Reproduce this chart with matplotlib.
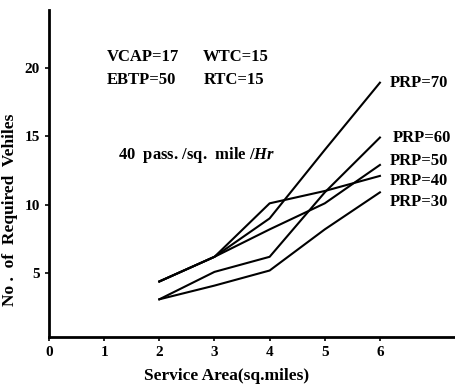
import matplotlib.pyplot as plt

area = [2, 3, 4, 5, 6]
prp_labels = ["PRP=70", "PRP=60", "PRP=50", "PRP=40", "PRP=30"]
prp70 = [4.4, 6.2, 9.0, 14.0, 18.9]
prp60 = [3.1, 5.1, 6.2, 10.9, 14.9]
prp50 = [4.4, 6.2, 8.2, 10.1, 12.9]
prp40 = [4.4, 6.2, 10.1, 11.0, 12.1]
prp30 = [3.1, 4.1, 5.2, 8.2, 10.9]
series = [prp70, prp60, prp50, prp40, prp30]

plt.rcParams["font.family"] = "Liberation Serif"
plt.rcParams["font.weight"] = "bold"
plt.rcParams["mathtext.fontset"] = "custom"
plt.rcParams["mathtext.it"] = "Liberation Serif:italic:bold"
plt.rcParams["mathtext.rm"] = "Liberation Serif:bold"

fig = plt.figure(figsize=(4.56, 3.85), dpi=100)
ax = fig.add_axes([0.1075, 0.125, 0.895, 0.849])

for vals in series:
    ax.plot(area, vals, color="black", lw=1.5)

# curve labels at the right end
label_pos = [(6.18, 18.9), (6.24, 14.9), (6.18, 13.2), (6.18, 11.7), (6.18, 10.2)]
for lab, (lx, ly) in zip(prp_labels, label_pos):
    ax.text(lx, ly, lab, fontsize=12, fontweight="bold", va="center", ha="left")

fs = 12
ax.text(1.05, 20.75, "VCAP=17", fontsize=fs, fontweight="bold", va="center")
ax.text(2.78, 20.75, "WTC=15", fontsize=fs, fontweight="bold", va="center")
ax.text(1.05, 19.1, "EBTP=50", fontsize=fs, fontweight="bold", va="center")
ax.text(2.8, 19.1, "RTC=15", fontsize=fs, fontweight="bold", va="center")
ax.text(1.25, 13.6, "40  pass. /sq.  mile /$Hr$", fontsize=12,
        fontweight="bold", va="center")

ax.set_xlim(0, 7.4)
ax.set_ylim(0.36, 24.2)
ax.set_xticks([0, 1, 2, 3, 4, 5, 6])
ax.set_yticks([5, 10, 15, 20])
ax.tick_params(direction="out", length=3, width=1.2, labelsize=11)
for t in ax.get_xticklabels() + ax.get_yticklabels():
    t.set_fontweight("bold")

for side in ["top", "right"]:
    ax.spines[side].set_visible(False)
for side in ["left", "bottom"]:
    ax.spines[side].set_linewidth(2)

ax.set_xlabel("Service Area(sq.miles)", fontsize=12.5, fontweight="bold")
ax.set_ylabel("No .  of  Required  Vehiles", fontsize=12.5, fontweight="bold")
ax.xaxis.set_label_coords(0.436, -0.095)
ax.yaxis.set_label_coords(-0.075, 0.39)

fig.savefig("out.png", dpi=100)
